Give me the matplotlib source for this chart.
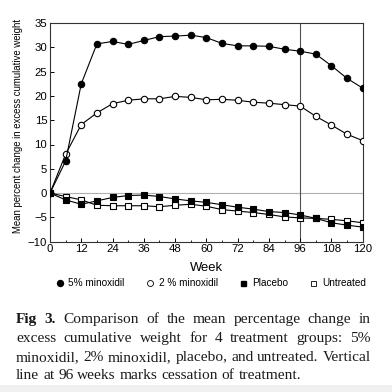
import matplotlib
matplotlib.use("Agg")
import matplotlib.pyplot as plt
from matplotlib.lines import Line2D
from matplotlib.patches import Rectangle

weeks = [0, 6, 12, 18, 24, 30, 36, 42, 48, 54, 60, 66, 72, 78, 84, 90, 96, 102, 108, 114, 120]
minox5 = [0, 6.6, 22.5, 30.7, 31.2, 30.6, 31.4, 32.2, 32.3, 32.5, 32.0, 30.8, 30.3, 30.3, 30.2, 29.6, 29.2, 28.6, 26.2, 23.6, 21.6]
minox2 = [0, 8.0, 14.1, 16.5, 18.4, 19.1, 19.4, 19.4, 19.9, 19.7, 19.2, 19.3, 19.1, 18.7, 18.5, 18.2, 17.9, 15.8, 14.0, 12.1, 10.8]
placebo = [0, -1.4, -2.3, -1.6, -0.9, -0.5, -0.4, -0.7, -1.2, -1.6, -1.9, -2.4, -2.9, -3.3, -3.8, -4.0, -4.5, -5.2, -6.1, -6.6, -7.0]
untreated = [0, -0.7, -1.4, -2.5, -2.6, -2.6, -2.6, -2.8, -2.5, -2.3, -2.7, -3.4, -3.7, -4.0, -4.4, -4.9, -5.1, -5.2, -5.4, -5.7, -6.1]
xticks = [0, 12, 24, 36, 48, 60, 72, 84, 96, 108, 120]
yticks = [-10, -5, 0, 5, 10, 15, 20, 25, 30, 35]
labels = ["5% minoxidil", "2 % minoxidil", "Placebo", "Untreated"]
cessation_week = 96

caption_lines = [
    ["Fig 3.", "Comparison of the mean percentage change in"],
    ["excess cumulative weight for 4 treatment groups: 5%"],
    ["minoxidil, 2% minoxidil, placebo, and untreated. Vertical"],
    ["line at 96 weeks marks cessation of treatment."],
]

W = H = 392
fig = plt.figure(figsize=(3.92, 3.92), dpi=100)
fig.patch.set_facecolor("white")
plt.rcParams['font.family'] = ['Liberation Sans', 'DejaVu Sans']

ax = fig.add_axes([50 / W, 1 - 241.7 / H, (362.7 - 50) / W, (241.7 - 23) / H])
ax.set_xlim(0, 120)
ax.set_ylim(-10, 35)

ax.axhline(0, color="#b0b0b0", lw=0.8, zorder=1)
ax.axvline(cessation_week, color="#505050", lw=0.8, zorder=1)

lw = 0.8
ax.plot(weeks, untreated, color="black", lw=lw, marker="s", ms=4.3, mfc="white", mec="black", mew=0.8, zorder=3)
ax.plot(weeks, placebo, color="black", lw=lw, marker="s", ms=4.0, mfc="black", mec="black", mew=0.8, zorder=3)
ax.plot(weeks, minox2, color="black", lw=lw, marker="o", ms=4.6, mfc="white", mec="black", mew=0.8, zorder=3)
ax.plot(weeks, minox5, color="black", lw=lw, marker="o", ms=4.6, mfc="black", mec="black", mew=0.8, zorder=3)

ax.set_xticks(xticks)
ax.set_xticks([w + 6 for w in xticks[:-1]], minor=True)
ax.set_yticks(yticks)
ax.tick_params(axis="both", which="major", direction="in", length=3, width=0.7, labelsize=8.2, pad=2)
ax.tick_params(axis="x", which="minor", direction="in", length=1.8, width=0.6)
ax.tick_params(top=False, right=False)
for s in ax.spines.values():
    s.set_linewidth(0.8)
    s.set_color("#333333")

fig.text(18 / W, 1 - 126 / H, "Mean percent change in excess cumulative weight",
         rotation=90, ha="center", va="center", fontsize=6.9)
fig.text(206 / W, 1 - 268 / H, "Week", ha="center", va="center", fontsize=9.4)

# legend
handles = [
    Line2D([], [], ls="none", marker="o", ms=4.3, mfc="black", mec="black"),
    Line2D([], [], ls="none", marker="o", ms=4.3, mfc="white", mec="black", mew=0.6),
    Line2D([], [], ls="none", marker="s", ms=3.6, mfc="black", mec="black"),
    Line2D([], [], ls="none", marker="s", ms=3.6, mfc="white", mec="black", mew=0.6),
]
fig.legend(handles, labels, loc="center", bbox_to_anchor=(211 / W, 1 - 283.5 / H), ncol=4,
           frameon=False, fontsize=7.2, handlelength=0.7, handletextpad=0.5, columnspacing=2.2,
           borderpad=0, borderaxespad=0)

# justified caption
fig.canvas.draw()
renderer = fig.canvas.get_renderer()
serif = ['Liberation Serif', 'DejaVu Serif']
fs = 10.0
x_left, x_right = 16.0, 370.7
baselines = [323.3, 342.0, 360.7, 379.0]

def measure(word, bold):
    t = fig.text(0, 0, word, fontsize=fs, family=serif, weight="bold" if bold else "normal")
    bb = t.get_window_extent(renderer)
    t.remove()
    return bb.width

last_w = measure(caption_lines[3][0], False)
fs = fs * 285.0 / last_w

for i, segs in enumerate(caption_lines):
    words = []
    for j, seg in enumerate(segs):
        bold = (i == 0 and j == 0)
        for w in seg.split(" "):
            words.append((w, bold))
    widths = [measure(w, b) for w, b in words]
    y = 1 - baselines[i] / H
    if i == len(caption_lines) - 1:
        space = measure("a b", False) - measure("ab", False)
    else:
        space = (x_right - x_left - sum(widths)) / (len(words) - 1)
    x = x_left
    for (w, b), wd in zip(words, widths):
        fig.text(x / W, y, w, fontsize=fs, family=serif, weight="bold" if b else "normal",
                 ha="left", va="baseline", color="#1a1a1a")
        x += wd + space

fig.add_artist(Rectangle((0, 0), 1, 7 / H, transform=fig.transFigure, color="#f0f0f0", lw=0, zorder=-5))

fig.savefig("out.png", dpi=100, facecolor="white")
